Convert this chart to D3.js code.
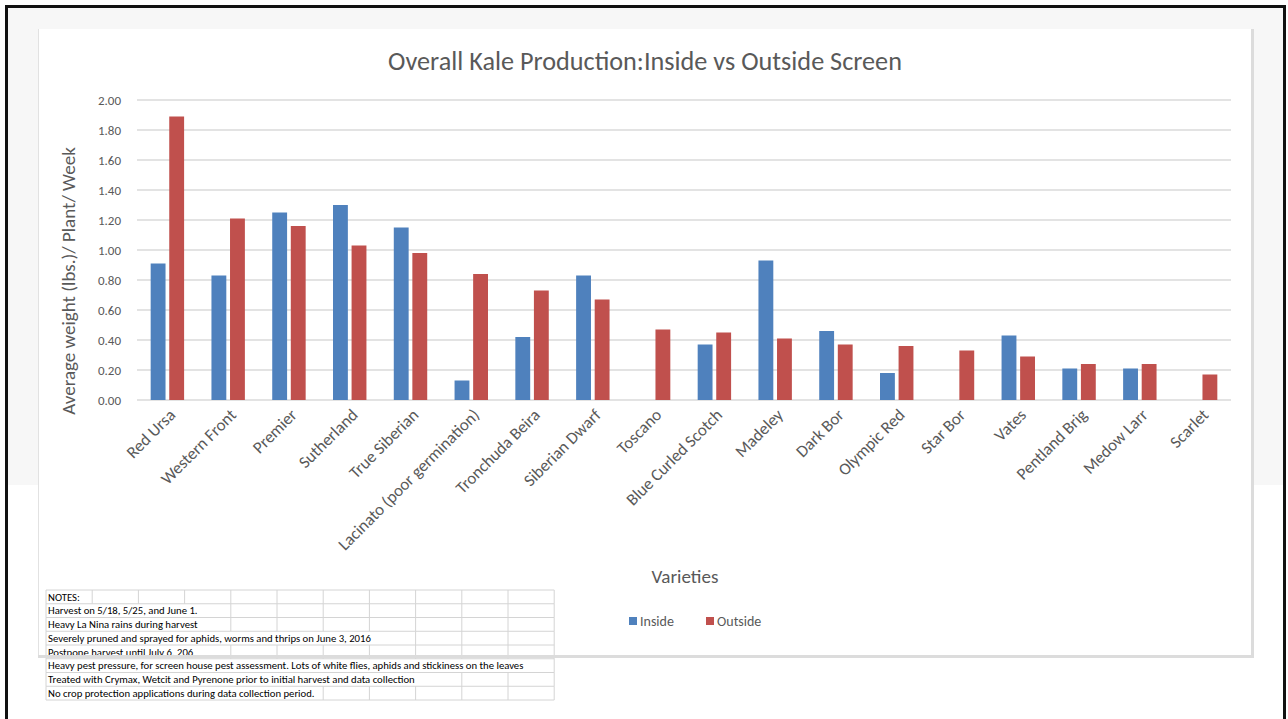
<!DOCTYPE html>
<html>
<head>
<meta charset="utf-8">
<script src="https://cdn.jsdelivr.net/npm/d3@7"></script>
<style>
  html, body { margin: 0; padding: 0; background: #fff; }
  svg { display: block; }
  text { font-family: Carlito, Calibri, Lato, "Open Sans", sans-serif; }
</style>
</head>
<body>
<svg id="chart" width="1288" height="719"></svg>
<script>
const categories = ["Red Ursa", "Western Front", "Premier", "Sutherland", "True Siberian",
  "Lacinato (poor germination)", "Tronchuda Beira", "Siberian Dwarf", "Toscano",
  "Blue Curled Scotch", "Madeley", "Dark Bor", "Olympic Red", "Star Bor", "Vates",
  "Pentland Brig", "Medow Larr", "Scarlet"];
const insideValues = [0.91, 0.83, 1.25, 1.30, 1.15, 0.13, 0.42, 0.83, null, 0.37, 0.93, 0.46, 0.18, null, 0.43, 0.21, 0.21, null];
const outsideValues = [1.89, 1.21, 1.16, 1.03, 0.98, 0.84, 0.73, 0.67, 0.47, 0.45, 0.41, 0.37, 0.36, 0.33, 0.29, 0.24, 0.24, 0.17];
const seriesNames = ["Inside", "Outside"];
const seriesColors = ["#4f81bd", "#c0504d"];
const yTicks = [0, 0.2, 0.4, 0.6, 0.8, 1.0, 1.2, 1.4, 1.6, 1.8, 2.0];
const titleText = "Overall Kale Production:Inside vs Outside Screen";
const yTitleText = "Average weight (lbs.)/ Plant/ Week";
const xTitleText = "Varieties";
const notes = ["NOTES:",
  "Harvest on 5/18, 5/25, and June 1.",
  "Heavy La Nina rains during harvest",
  "Severely pruned and sprayed for aphids, worms and thrips on June 3, 2016",
  "Postpone harvest until July 6, 206",
  "Heavy pest pressure, for screen house pest assessment. Lots of white flies, aphids and stickiness on the leaves",
  "Treated with Crymax, Wetcit and Pyrenone prior to initial harvest and data collection",
  "No crop protection applications during data collection period."];

const svg = d3.select("#chart");
const txt = "#595959";

function fitWidth(sel, target) {
  const w = sel.node().getComputedTextLength();
  const fs = parseFloat(sel.attr("font-size"));
  sel.attr("font-size", fs * target / w);
  return fs * target / w;
}

// page background & frame
svg.append("rect").attr("x", 0).attr("y", 0).attr("width", 1288).attr("height", 719).attr("fill", "#fff");
svg.append("rect").attr("x", 8).attr("y", 8).attr("width", 1275).attr("height", 477).attr("fill", "#f7f7f7");
svg.append("rect").attr("x", 5).attr("y", 5).attr("width", 1281).attr("height", 3).attr("fill", "#111");
svg.append("rect").attr("x", 5).attr("y", 5).attr("width", 3).attr("height", 714).attr("fill", "#111");
svg.append("rect").attr("x", 1283).attr("y", 5).attr("width", 3).attr("height", 714).attr("fill", "#111");

// chart box
svg.append("rect").attr("x", 38).attr("y", 29).attr("width", 1214).attr("height", 627).attr("fill", "#fff");
svg.append("rect").attr("x", 38).attr("y", 29).attr("width", 1).attr("height", 627).attr("fill", "#e2e2e2");
svg.append("rect").attr("x", 1251).attr("y", 29).attr("width", 3).attr("height", 629).attr("fill", "#dcdcdc");

const plot = { left: 137, right: 1231, top: 100, bottom: 400 };

const x0 = d3.scaleBand().domain(categories).range([plot.left, plot.right])
  .paddingInner(0.45).paddingOuter(0.225);
const x1 = d3.scaleBand().domain(seriesNames).range([0, x0.bandwidth()]).paddingInner(0.2);
const y = d3.scaleLinear().domain([0, 2]).range([plot.bottom, plot.top]);

// gridlines
svg.append("g").selectAll("line").data(yTicks).join("line")
  .attr("x1", plot.left).attr("x2", plot.right)
  .attr("y1", d => y(d)).attr("y2", d => y(d))
  .attr("stroke", "#dadada").attr("stroke-width", 1.6);

// y tick labels
svg.append("g").selectAll("text").data(yTicks).join("text")
  .attr("x", 121).attr("y", d => y(d)).attr("dy", "0.35em")
  .attr("text-anchor", "end").attr("font-size", 13).attr("fill", txt)
  .text(d => d3.format(".2f")(d));

// bars
const rows = categories.map((c, i) => ({ cat: c, vals: [insideValues[i], outsideValues[i]] }));
const g = svg.append("g").selectAll("g").data(rows).join("g")
  .attr("transform", d => `translate(${x0(d.cat)},0)`);
g.selectAll("rect").data(d => d.vals.map((v, k) => ({ v, k })).filter(e => e.v !== null)).join("rect")
  .attr("x", e => x1(seriesNames[e.k]))
  .attr("y", e => y(e.v))
  .attr("width", x1.bandwidth())
  .attr("height", e => y(0) - y(e.v))
  .attr("fill", e => seriesColors[e.k]);

// x labels
const xl = svg.append("g").selectAll("text").data(categories).join("text")
  .attr("transform", d => `translate(${x0(d) + x0.bandwidth() / 2 + 9},${416}) rotate(-45)`)
  .attr("text-anchor", "end").attr("font-size", 13).attr("fill", txt)
  .text(d => d);
{
  const node = xl.filter(d => d === "Blue Curled Scotch");
  const fs = fitWidth(node, 128);
  xl.attr("font-size", fs);
}

// title
const title = svg.append("text").attr("x", 645).attr("y", 70).attr("text-anchor", "middle")
  .attr("font-size", 24).attr("fill", txt).attr("font-weight", 300).text(titleText);
fitWidth(title, 514);

// y axis title
const yt = svg.append("text").attr("transform", "translate(75,281) rotate(-90)")
  .attr("text-anchor", "middle").attr("font-size", 16).attr("fill", txt).text(yTitleText);
fitWidth(yt, 268);

// x axis title
const xt = svg.append("text").attr("x", 685).attr("y", 583).attr("text-anchor", "middle")
  .attr("font-size", 16).attr("fill", txt).text(xTitleText);
fitWidth(xt, 67);

// legend
const legendPos = [629, 706];
const lg = svg.append("g").selectAll("g").data(seriesNames).join("g")
  .attr("transform", (d, i) => `translate(${legendPos[i]},617)`);
lg.append("rect").attr("width", 8).attr("height", 8).attr("fill", (d, i) => seriesColors[i]);
lg.append("text").attr("x", 11).attr("y", 8.5).attr("font-size", 14).attr("fill", txt).text(d => d);

// notes table
const tableLeft = 46, colW = 46.2, nCols = 11, rowH = 13.75, tableTop = 590;
const tbl = svg.append("g");
tbl.append("rect").attr("x", tableLeft).attr("y", tableTop)
  .attr("width", colW * nCols).attr("height", rowH * notes.length).attr("fill", "#fff");
const noteTexts = tbl.selectAll("text.note").data(notes).join("text")
  .attr("class", "note")
  .attr("x", tableLeft + 2).attr("y", (d, i) => tableTop + rowH * i + 10.5)
  .attr("font-size", 11).attr("fill", "#000").text(d => d);
{
  const longest = noteTexts.filter((d, i) => i === 5);
  const fs = fitWidth(longest, 476);
  noteTexts.attr("font-size", fs);
}
const textEnds = noteTexts.nodes().map(n => tableLeft + 2 + n.getComputedTextLength());
tbl.selectAll("line.h").data(d3.range(notes.length + 1)).join("line")
  .attr("x1", tableLeft).attr("x2", tableLeft + colW * nCols)
  .attr("y1", i => tableTop + rowH * i).attr("y2", i => tableTop + rowH * i)
  .attr("stroke", "#d4d4d4").attr("stroke-width", 1);
notes.forEach((n, r) => {
  d3.range(nCols + 1).forEach(c => {
    const xx = tableLeft + colW * c;
    if (c === 0 || c === nCols || xx > textEnds[r] + 1) {
      tbl.append("line").attr("x1", xx).attr("x2", xx)
        .attr("y1", tableTop + rowH * r).attr("y2", tableTop + rowH * (r + 1))
        .attr("stroke", "#d4d4d4").attr("stroke-width", 1);
    }
  });
});

// bottom shadow of chart box (drawn over table)
svg.append("rect").attr("x", 38).attr("y", 655).attr("width", 1216).attr("height", 3).attr("fill", "#dcdcdc");
</script>
</body>
</html>
